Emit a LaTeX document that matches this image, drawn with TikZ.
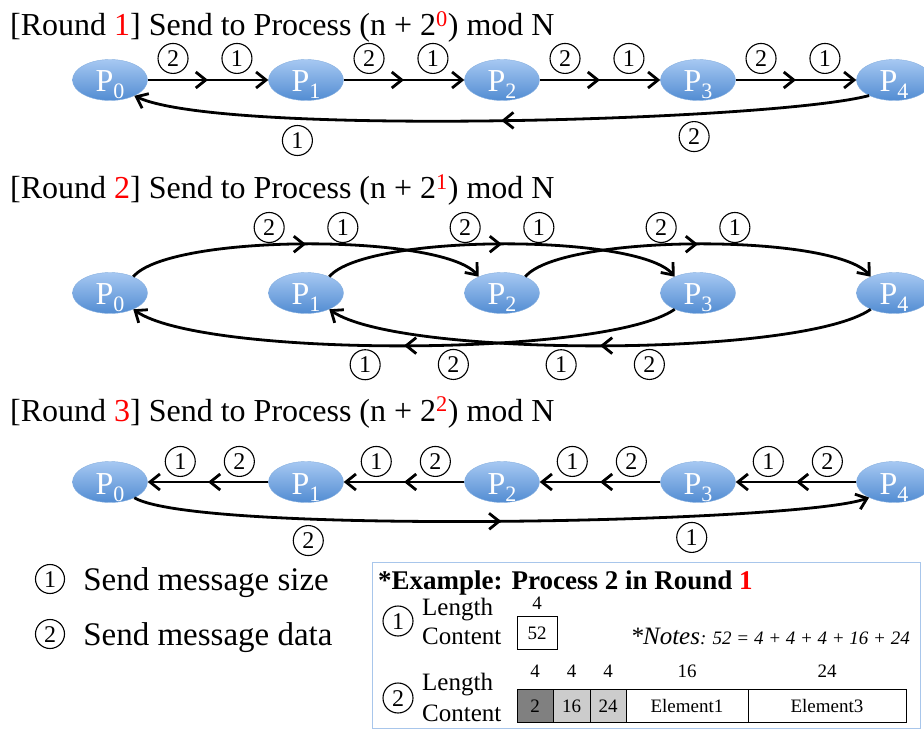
\documentclass[tikz,border=0pt]{standalone}
\usepackage{fontspec}
\setmainfont{Liberation Serif}
\usetikzlibrary{arrows.meta,shapes.geometric,positioning,decorations.markings}
\definecolor{procTop}{RGB}{166,200,242}
\definecolor{procBot}{RGB}{82,140,210}
\definecolor{boxblue}{RGB}{168,198,235}
\definecolor{cellDark}{RGB}{128,128,128}
\definecolor{cellLight}{RGB}{204,204,204}
\newcommand{\pidx}[1]{P\raisebox{-7pt}{\fontsize{22}{22}\selectfont #1}}
\tikzset{
    % process vertex (shaded blue ellipse)
    proc/.style={
        ellipse, top color=procTop, bottom color=procBot,
        draw=procBot!70!white, line width=0.4pt,
        minimum width=75pt, minimum height=41pt, inner sep=0pt,
        text=white, text height=24pt, text depth=0pt,
        font=\fontsize{32}{32}\selectfont
    },
    % message connector
    msg/.style={line width=2.8pt, -{Straight Barb[length=10pt,width=16pt]}},
    midtip/.style={postaction={decorate},
        decoration={markings, mark=at position #1 with {\arrow{Straight Barb[length=10pt,width=16pt]}}}},
    % circled step numbers
    stepnum/.style={
        circle, draw, line width=1.1pt, minimum size=30pt, inner sep=0pt,
        text height=16pt, text depth=0pt, font=\fontsize{24}{24}\selectfont
    },
    roundtitle/.style={anchor=base west, inner sep=0pt, font=\fontsize{32}{36}\selectfont},
    legendtxt/.style={text height=22pt, text depth=0pt, inner sep=0pt, font=\fontsize{33}{36}\selectfont},
    fieldlbl/.style={anchor=base west, inner sep=0pt, font=\fontsize{25}{28}\selectfont},
    cell/.style={draw, line width=1pt, outer sep=0pt, inner sep=0pt, minimum height=33pt,
        text height=13pt, text depth=0pt, font=\fontsize{19}{20}\selectfont},
    sizelbl/.style={inner sep=0pt, text height=13pt, text depth=0pt, font=\fontsize{19}{20}\selectfont},
}

\begin{document}
\begin{tikzpicture}[x=1pt,y=1pt]
  \useasboundingbox (0,0) rectangle (924,-730);

  % --- round 1: n -> n+1 ---
  \node[roundtitle] (t1) at (10,-36) {[Round {\color{red}1}] Send to Process (n + 2\textsuperscript{\color{red}0}) mod N};
  \foreach \i in {0,...,4}{\node[proc] (a\i) at (110+196*\i,-80) {\pidx{\i}};}
  \foreach \i [evaluate=\i as \j using int(\i+1)] in {0,...,3}{
    \draw[msg,midtip=0.5] (a\i) -- node[stepnum,pos=0.21,above=6pt] (a\i-d) {2}
                                   node[stepnum,pos=0.74,above=6pt] (a\i-s) {1} (a\j);
  }
  \draw[msg,midtip=0.5] (a4.212) to[out=195,in=-25,looseness=0.34]
        node[stepnum,pos=0.29,below=7pt] (ra-d) {2}
        node[stepnum,pos=0.72,below=7pt] (ra-s) {1} (a0.327);

  % --- round 2: n -> n+2 ---
  \node[roundtitle] (t2) at (10,-199) {[Round {\color{red}2}] Send to Process (n + 2\textsuperscript{\color{red}1}) mod N};
  \foreach \i in {0,...,4}{\node[proc] (b\i) at (110+196*\i,-293) {\pidx{\i}};}
  \foreach \i/\j in {0/2,1/3,2/4}{
    \draw[msg,midtip=0.5] (b\i.35) to[out=50,in=130,looseness=0.42]
          node[stepnum,pos=0.42,above=2pt] (b\i-d) {2}
          node[stepnum,pos=0.58,above=2pt] (b\i-s) {1} (b\j.145);
  }
  \foreach \i/\j in {3/0,4/1}{
    \draw[msg,midtip=0.5] (b\i.215) to[out=215,in=-35,looseness=0.4]
          node[stepnum,pos=0.43,below=4pt] (b\i-d) {2}
          node[stepnum,pos=0.555,below=4pt] (b\i-s) {1} (b\j.325);
  }

  % --- round 3: n -> n+4 ---
  \node[roundtitle] (t3) at (10,-421) {[Round {\color{red}3}] Send to Process (n + 2\textsuperscript{\color{red}2}) mod N};
  \foreach \i in {0,...,4}{\node[proc] (c\i) at (110+196*\i,-482) {\pidx{\i}};}
  \foreach \i/\j in {1/0,2/1,3/2,4/3}{
    \draw[msg,midtip=0.5] (c\i) -- node[stepnum,pos=0.24,above=5pt] (c\i-d) {2}
                                   node[stepnum,pos=0.73,above=5pt] (c\i-s) {1} (c\j);
  }
  \draw[msg,midtip=0.5] (c0.327) to[out=-30,in=200,looseness=0.26]
        node[stepnum,pos=0.3,below=6pt] (rc-d) {2}
        node[stepnum,pos=0.7,below=6pt] (rc-s) {1} (c4.212);

  % legend
  \node[stepnum,minimum size=29pt] (k1) at (50,-579) {1};
  \node[legendtxt,right=18pt of k1] (k1t) {Send message size};
  \node[stepnum,minimum size=29pt] (k2) at (50,-634) {2};
  \node[legendtxt,right=18pt of k2] (k2t) {Send message data};

  % example box
  \node[draw=boxblue,line width=1.2pt,minimum width=548pt,minimum height=166pt,
        inner sep=0pt,anchor=north west] (ex) at (372,-562) {};
  \node[roundtitle,font=\fontsize{27}{30}\selectfont\bfseries] (ext) at (378,-589)
        {*Example: Process 2 in Round {\color{red}1}};
  \node[stepnum] (e1) at (398,-621) {1};
  \node[fieldlbl] (e1l) at (422,-615) {Length};
  \node[fieldlbl] (e1c) at (422,-644) {Content};
  \node[cell,minimum width=40pt,anchor=west] (m52) at (517,-633) {52};
  \node[sizelbl,above=7pt of m52] (m52n) {4};
  \node[anchor=base east,inner sep=0pt,font=\fontsize{19}{20}\selectfont\itshape] (note) at (910,-644)
        {{\fontsize{25}{28}\selectfont *Notes}: 52 = 4 + 4 + 4 + 16 + 24};

  \node[stepnum] (e2) at (398,-698) {2};
  \node[fieldlbl] (e2l) at (422,-690) {Length};
  \node[fieldlbl] (e2c) at (422,-721) {Content};
  \node[cell,fill=cellDark,minimum width=36pt,anchor=west] (f1) at (517,-705.5) {2};
  \node[cell,fill=cellLight,minimum width=37pt,right=0pt of f1] (f2) {16};
  \node[cell,fill=cellLight,minimum width=36pt,right=0pt of f2] (f3) {24};
  \node[cell,minimum width=122pt,right=0pt of f3] (f4) {Element1};
  \node[cell,minimum width=158pt,right=0pt of f4] (f5) {Element3};
  \foreach \f/\n in {f1/4,f2/4,f3/4,f4/16,f5/24}{\node[sizelbl,above=11pt of \f] (\f n) {\n};}
\end{tikzpicture}
\end{document}
